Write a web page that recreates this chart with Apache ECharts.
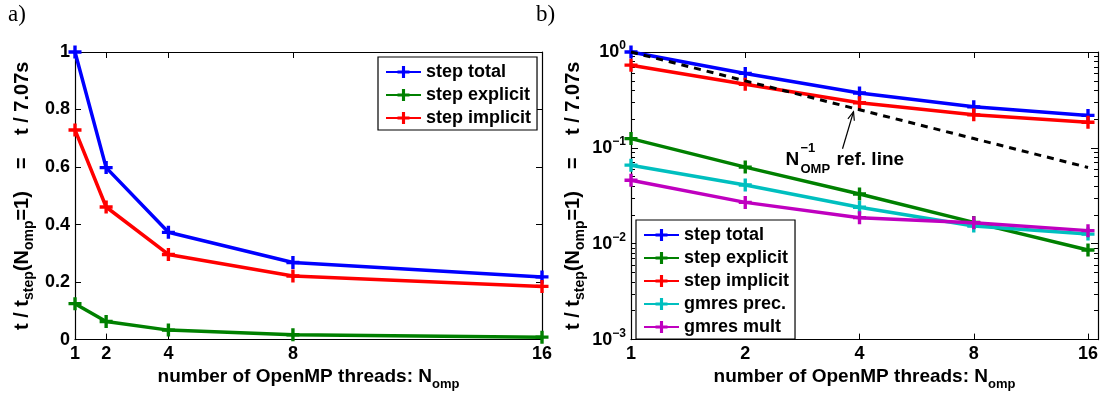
<!DOCTYPE html>
<html><head><meta charset="utf-8">
<script src="https://cdn.jsdelivr.net/npm/echarts@6/dist/echarts.min.js"></script>
<style>html,body{margin:0;padding:0;background:#fff}#c{width:1103px;height:396px}</style>
</head><body><div id="c"></div>
<script>
// ---- data ----
const threads = [1, 2, 4, 8, 16];
const stepTotal = [1.0, 0.598, 0.373, 0.268, 0.218];
const stepExplicit = [0.125, 0.063, 0.033, 0.0167, 0.0086];
const stepImplicit = [0.729, 0.461, 0.296, 0.221, 0.185];
const gmresPrec = [0.066, 0.041, 0.024, 0.0153, 0.0126];
const gmresMult = [0.046, 0.027, 0.0187, 0.0166, 0.0137];
const refLine = [1, 0.5, 0.25, 0.125, 0.0625];
const xTicks = [1, 2, 4, 8, 16];
const yTicksLog = [0.001, 0.01, 0.1, 1];
const yMinorLog = [0.002,0.003,0.004,0.005,0.006,0.007,0.008,0.009,
                   0.02,0.03,0.04,0.05,0.06,0.07,0.08,0.09,
                   0.2,0.3,0.4,0.5,0.6,0.7,0.8,0.9];
const namesA = ['step total', 'step explicit', 'step implicit'];
const namesB = ['step total', 'step explicit', 'step implicit', 'gmres prec.', 'gmres mult'];

// ---- styles ----
const FONT = 'Liberation Sans';
const PLUS = 'path://M3.7,0h2.6v3.7h3.7v2.6h-3.7v3.7h-2.6v-3.7h-3.7v-2.6h3.7z';
const C = {blue:'#0000ff', green:'#008000', red:'#ff0000', cyan:'#00bfbf', magenta:'#bf00bf'};

const chart = echarts.init(document.getElementById('c'), null, {renderer:'canvas'});

function pairs(vals){ return threads.map((t,i)=>[t, vals[i]]); }
function line(name, vals, color, xi, yi, z){
  return {type:'line', name, data:pairs(vals), xAxisIndex:xi, yAxisIndex:yi,
    symbol:PLUS, symbolSize:13, showSymbol:true, clip:false, silent:true, z:z,
    lineStyle:{width:3.5, color}, itemStyle:{color}, emphasis:{disabled:true}, animation:false};
}
const axLine = {show:true, onZero:false, lineStyle:{color:'#000', width:1.2}};
const tickLab = {fontFamily:FONT, fontWeight:'bold', fontSize:18, color:'#000'};
const richTitle = {
  m:{fontFamily:FONT, fontWeight:'bold', fontSize:19, color:'#000', lineHeight:28},
  s:{fontFamily:FONT, fontWeight:'bold', fontSize:13, color:'#000', lineHeight:28, verticalAlign:'bottom'}
};
const richY = {
  m:{fontFamily:FONT, fontWeight:'bold', fontSize:20, color:'#000', lineHeight:28},
  s:{fontFamily:FONT, fontWeight:'bold', fontSize:14, color:'#000', lineHeight:28, verticalAlign:'bottom'}
};
const xName = '{m|number of OpenMP threads: N}{s|omp}';
const yName = '{m|t / t}{s|step}{m|(N}{s|omp}{m|=1)    =    t / 7.07s}';

function expLabel(v){
  const e = Math.round(Math.log10(v));
  return '{b|10}{s|' + (e < 0 ? '\u2212' + (-e) : e) + '}';
}

const legendBase = {
  orient:'vertical', itemWidth:35, itemHeight:15, itemGap:5, padding:[6,6,3,7],
  borderColor:'#000', borderWidth:1.2, backgroundColor:'#fff', selectedMode:false,
  textStyle:{fontFamily:FONT, fontWeight:'bold', fontSize:18, color:'#000'}
};

const option = {
  animation:false,
  backgroundColor:'#fff',
  grid:[
    {left:75, top:52, width:467, height:292, show:false},
    {left:631, top:52, width:467, height:292, show:false}
  ],
  xAxis:[
    {gridIndex:0, type:'value', min:1, max:16, position:'bottom', axisLine:axLine,
     axisTick:{inside:true, length:6, customValues:xTicks, lineStyle:{color:'#000'}},
     axisLabel:Object.assign({margin:5, customValues:xTicks}, tickLab),
     splitLine:{show:false},
     name:xName, nameLocation:'middle', nameGap:16, nameTextStyle:{rich:richTitle}},
    {gridIndex:0, type:'value', min:1, max:16, position:'top', axisLine:axLine,
     axisTick:{inside:true, length:6, customValues:xTicks, lineStyle:{color:'#000'}},
     axisLabel:{show:false}, splitLine:{show:false}},
    {gridIndex:1, type:'log', logBase:2, min:1, max:17, position:'bottom', axisLine:axLine,
     axisTick:{inside:true, length:6, customValues:xTicks, lineStyle:{color:'#000'}},
     axisLabel:Object.assign({margin:5, customValues:xTicks}, tickLab),
     splitLine:{show:false}, minorTick:{show:false},
     name:xName, nameLocation:'middle', nameGap:16, nameTextStyle:{rich:richTitle}},
    {gridIndex:1, type:'log', logBase:2, min:1, max:17, position:'top', axisLine:axLine,
     axisTick:{inside:true, length:6, customValues:xTicks, lineStyle:{color:'#000'}},
     axisLabel:{show:false}, splitLine:{show:false}}
  ],
  yAxis:[
    {gridIndex:0, type:'value', min:0, max:1, interval:0.2, position:'left', axisLine:axLine,
     axisTick:{inside:true, length:6, lineStyle:{color:'#000'}},
     axisLabel:Object.assign({margin:5}, tickLab), splitLine:{show:false},
     name:yName, nameLocation:'middle', nameRotate:90, nameGap:39, nameTextStyle:{rich:richY}},
    {gridIndex:0, type:'value', min:0, max:1, interval:0.2, position:'right', axisLine:axLine,
     axisTick:{inside:true, length:6, lineStyle:{color:'#000'}},
     axisLabel:{show:false}, splitLine:{show:false}},
    {gridIndex:1, type:'log', logBase:10, min:0.001, max:1, position:'left', axisLine:axLine,
     axisTick:{inside:true, length:7, customValues:yTicksLog, lineStyle:{color:'#000'}},
     axisLabel:{margin:5, customValues:yTicksLog, formatter:expLabel,
       rich:{b:{fontFamily:FONT, fontWeight:'bold', fontSize:18, color:'#000', lineHeight:24},
             s:{fontFamily:FONT, fontWeight:'bold', fontSize:12, color:'#000', lineHeight:24, verticalAlign:'top'}}},
     splitLine:{show:false},
     name:yName, nameLocation:'middle', nameRotate:90, nameGap:44, nameTextStyle:{rich:richY}},
    {gridIndex:1, type:'log', logBase:10, min:0.001, max:1, position:'right', axisLine:axLine,
     axisTick:{inside:true, length:7, customValues:yTicksLog, lineStyle:{color:'#000'}},
     axisLabel:{show:false}, splitLine:{show:false}},
    {gridIndex:1, type:'log', logBase:10, min:0.001, max:1, position:'left', axisLine:{show:false},
     axisTick:{inside:true, length:4, customValues:yMinorLog, lineStyle:{color:'#000'}},
     axisLabel:{show:false}, splitLine:{show:false}},
    {gridIndex:1, type:'log', logBase:10, min:0.001, max:1, position:'right', axisLine:{show:false},
     axisTick:{inside:true, length:4, customValues:yMinorLog, lineStyle:{color:'#000'}},
     axisLabel:{show:false}, splitLine:{show:false}}
  ],
  legend:[
    Object.assign({left:378, top:57, data:namesA}, legendBase),
    Object.assign({left:636, top:220, data:namesB}, legendBase)
  ],
  series:[
    line('step total', stepTotal, C.blue, 0, 0, 3),
    line('step explicit', stepExplicit, C.green, 0, 0, 4),
    line('step implicit', stepImplicit, C.red, 0, 0, 5),
    line('step total', stepTotal, C.blue, 2, 2, 3),
    line('step explicit', stepExplicit, C.green, 2, 2, 4),
    line('step implicit', stepImplicit, C.red, 2, 2, 5),
    line('gmres prec.', gmresPrec, C.cyan, 2, 2, 6),
    line('gmres mult', gmresMult, C.magenta, 2, 2, 7),
    {type:'line', name:'ref', data:pairs(refLine), xAxisIndex:2, yAxisIndex:2, symbol:'none',
     lineStyle:{width:3, color:'#000', type:[7,6]}, z:8, silent:true, clip:false, animation:false}
  ]
};
chart.setOption(option);

// annotation anchored to the reference line at N=4
const P = chart.convertToPixel({gridIndex:1}, [4, 0.25]);
const tip = [P[0]-6, P[1]+2], tail = [P[0]-17, P[1]+39];
const ang = Math.atan2(tail[1]-tip[1], tail[0]-tip[0]);
const hl = 9, ha = 0.38;
const h1 = [tip[0]+hl*Math.cos(ang+ha), tip[1]+hl*Math.sin(ang+ha)];
const h2 = [tip[0]+hl*Math.cos(ang-ha), tip[1]+hl*Math.sin(ang-ha)];
const tstyle = (txt, x, y, size) => ({type:'text', x, y, silent:true, z:100,
  style:{text:txt, fontFamily:FONT, fontWeight:'bold', fontSize:size, fill:'#000', textVerticalAlign:'middle', verticalAlign:'middle'}});
chart.setOption({graphic:[
  {type:'line', silent:true, z:100, shape:{x1:tail[0], y1:tail[1], x2:tip[0], y2:tip[1]}, style:{stroke:'#000', lineWidth:1.2}},
  {type:'polyline', silent:true, z:100, shape:{points:[h1, tip, h2]}, style:{stroke:'#000', lineWidth:1.2, fill:null}},
  tstyle('N', P[0]-74, P[1]+50, 19),
  tstyle('\u22121', P[0]-59, P[1]+39, 13),
  tstyle('OMP', P[0]-59, P[1]+60, 13),
  tstyle('ref. line', P[0]-23, P[1]+50, 19),
  {type:'text', left:8, top:3, silent:true, style:{text:'a)', fontFamily:'Liberation Serif', fontSize:23, fill:'#000'}},
  {type:'text', left:536, top:3, silent:true, style:{text:'b)', fontFamily:'Liberation Serif', fontSize:23, fill:'#000'}}
]});
</script>
</body></html>
